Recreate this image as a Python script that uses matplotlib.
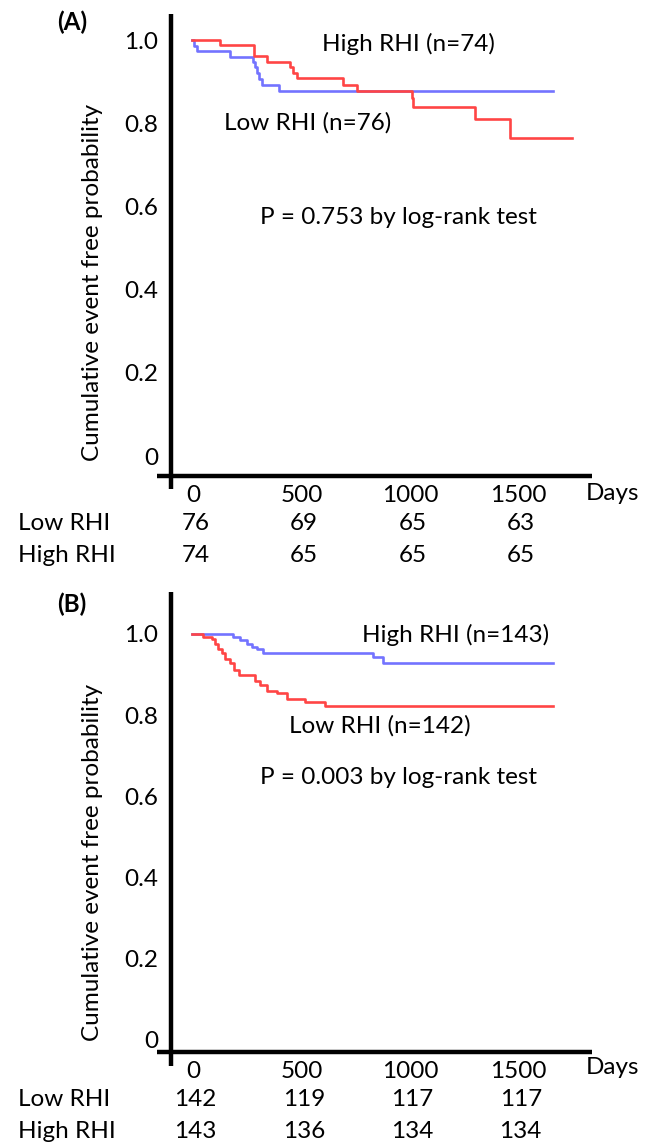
import matplotlib
matplotlib.use("Agg")
import matplotlib.pyplot as plt
from matplotlib.transforms import blended_transform_factory

plt.rcParams['font.family'] = ['Lato', 'DejaVu Sans']

RED = '#ff4545'
BLUE = '#7373ff'

# panel A curves (days, survival)
a_red_days = [0, 127, 284, 342, 450, 465, 481, 693, 758, 1012, 1019, 1304, 1465, 1753]
a_red_surv = [1.0, 0.989, 0.963, 0.948, 0.936, 0.922, 0.908, 0.892, 0.878, 0.861, 0.840, 0.810, 0.765, 0.765]
a_blue_days = [0, 5, 20, 173, 278, 288, 296, 307, 319, 401, 1662]
a_blue_surv = [1.0, 0.987, 0.973, 0.959, 0.948, 0.936, 0.920, 0.906, 0.892, 0.879, 0.879]

# panel B curves
b_red_days = [0, 50, 89, 104, 119, 135, 150, 173, 192, 216, 288, 312, 342, 389, 435, 519, 612, 1664]
b_red_surv = [1.0, 0.993, 0.987, 0.975, 0.962, 0.952, 0.939, 0.928, 0.910, 0.898, 0.885, 0.873,
              0.860, 0.854, 0.840, 0.831, 0.821, 0.821]
b_blue_days = [0, 187, 219, 250, 273, 296, 327, 834, 880, 1664]
b_blue_surv = [1.0, 0.993, 0.985, 0.975, 0.968, 0.962, 0.953, 0.943, 0.929, 0.929]

x_ticks = [0, 500, 1000, 1500]
y_ticks = [0, 0.2, 0.4, 0.6, 0.8, 1.0]
y_ticklabels = ['0', '0.2', '0.4', '0.6', '0.8', '1.0']

a_low_risk = [76, 69, 65, 63]
a_high_risk = [74, 65, 65, 65]
b_low_risk = [142, 119, 117, 117]
b_high_risk = [143, 136, 134, 134]

W, H = 653, 1143
FS = 17.5

fig = plt.figure(figsize=(W / 100, H / 100), dpi=100)


def fx(px):
    return px / W


def fy(py):
    return 1 - py / H


def px_axes(x0, y0, x1, y1):
    # pixel box (top-left origin) -> figure axes
    return fig.add_axes([fx(x0), fy(y1), (x1 - x0) / W, (y1 - y0) / H])


def draw_panel(ax, red_d, red_s, blue_d, blue_s, ylim, below, low_risk, high_risk, tick_y, rows_y):
    ax.step(blue_d, blue_s, where='post', color=BLUE, lw=1.9, zorder=3)
    ax.step(red_d, red_s, where='post', color=RED, lw=1.9, zorder=4)
    ax.set_xlim(-99, 1844)
    ax.set_ylim(*ylim)
    for s in ax.spines.values():
        s.set_visible(False)
    # thick axis lines that cross each other
    ax.plot([0, 0], [below, 1], transform=ax.transAxes, color='black', lw=3.2, clip_on=False,
            solid_capstyle='butt')
    ax.plot([-0.033, 1], [0, 0], transform=ax.transAxes, color='black', lw=3.2, clip_on=False,
            solid_capstyle='butt')
    ax.set_xticks([])
    ax.set_yticks(y_ticks)
    ax.set_yticklabels(y_ticklabels, fontsize=FS)
    ax.tick_params(axis='y', length=0, pad=9)
    tr = blended_transform_factory(ax.transData, fig.transFigure)
    for t in x_ticks:
        ax.text(t + 5, fy(tick_y), str(t), transform=tr, fontsize=FS, ha='center', va='center')
    fig.text(fx(612), fy(tick_y - 3), 'Days', fontsize=FS, ha='center', va='center')
    for t, lo, hi in zip(x_ticks, low_risk, high_risk):
        ax.text(t + 15, fy(rows_y[0]), str(lo), transform=tr, fontsize=FS, ha='center', va='center')
        ax.text(t + 15, fy(rows_y[1]), str(hi), transform=tr, fontsize=FS, ha='center', va='center')
    fig.text(fx(18), fy(rows_y[0]), 'Low RHI', fontsize=FS, ha='left', va='center')
    fig.text(fx(18), fy(rows_y[1]), 'High RHI', fontsize=FS, ha='left', va='center')


# panel A: 1.0 at y=40px, 0 at y=456px, axis box 14..476
axA = px_axes(171, 14, 592, 476)
draw_panel(axA, a_red_days, a_red_surv, a_blue_days, a_blue_surv, (-0.048, 1.063), -0.028,
           a_low_risk, a_high_risk, 496, (524, 556))
fig.text(fx(408), fy(44), 'High RHI (n=74)', fontsize=FS, ha='center', va='center')
fig.text(fx(308), fy(123), 'Low RHI (n=76)', fontsize=FS, ha='center', va='center')
fig.text(fx(398), fy(218), 'P = 0.753 by log-rank test', fontsize=FS, ha='center', va='center')

# panel B: 1.0 at y=634px, 0 at y=1040px, axis box 592..1052
axB = px_axes(171, 592, 592, 1052)
draw_panel(axB, b_red_days, b_red_surv, b_blue_days, b_blue_surv, (-0.030, 1.103), -0.030,
           b_low_risk, b_high_risk, 1071, (1100, 1132))
fig.text(fx(456), fy(635), 'High RHI (n=143)', fontsize=FS, ha='center', va='center')
fig.text(fx(380), fy(726), 'Low RHI (n=142)', fontsize=FS, ha='center', va='center')
fig.text(fx(398), fy(778), 'P = 0.003 by log-rank test', fontsize=FS, ha='center', va='center')

# panel letters and y labels
fig.text(fx(72), fy(22), '(A)', fontsize=FS, fontweight='bold', ha='center', va='center')
fig.text(fx(72), fy(604), '(B)', fontsize=FS, fontweight='bold', ha='center', va='center')
fig.text(fx(93), fy(282), 'Cumulative event free probability', fontsize=FS, rotation=90,
         ha='center', va='center')
fig.text(fx(93), fy(862), 'Cumulative event free probability', fontsize=FS, rotation=90,
         ha='center', va='center')

fig.savefig('out.png', dpi=100)
